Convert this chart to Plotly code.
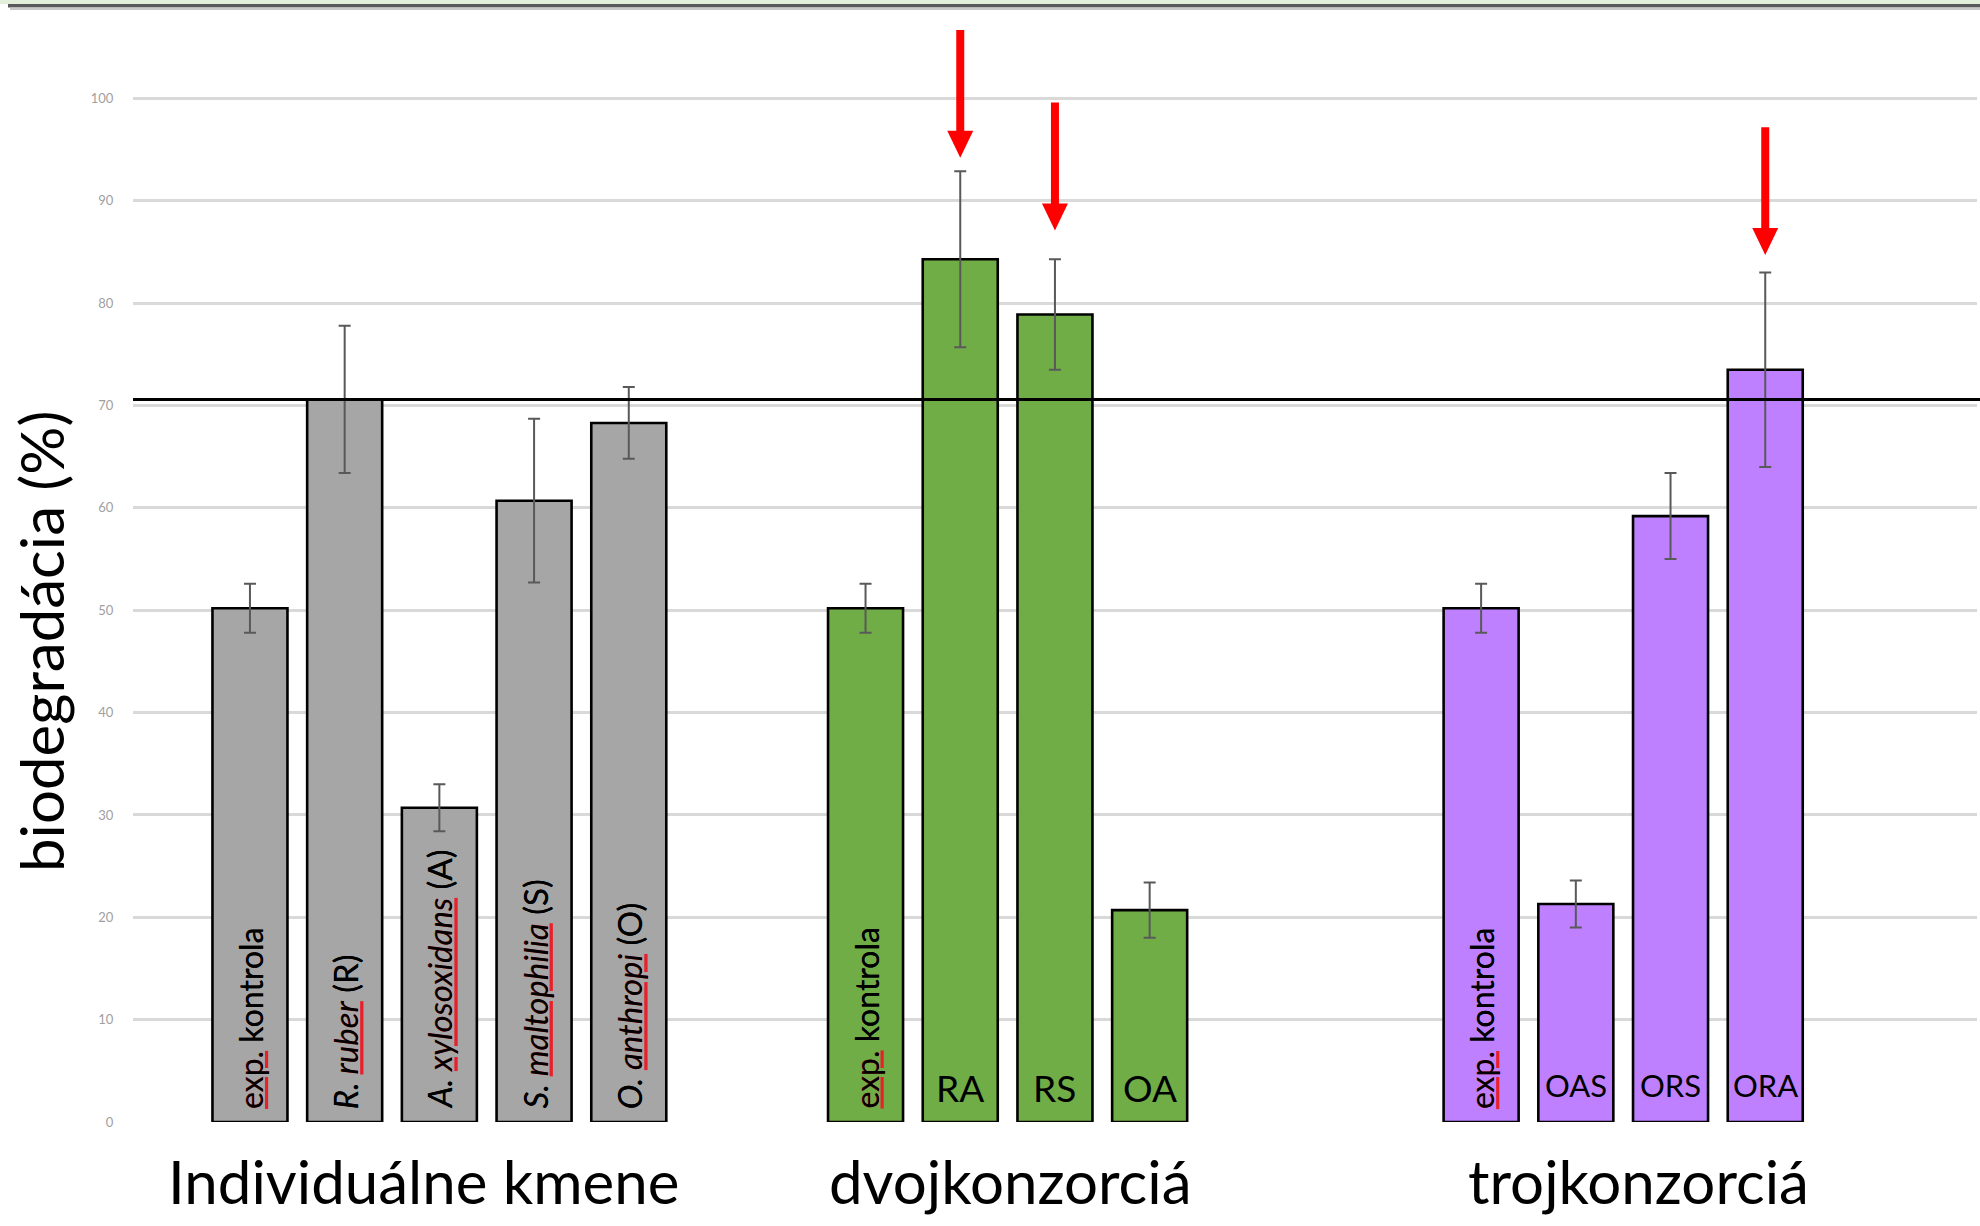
import plotly.graph_objects as go

# ---------------- data ----------------
ind_labels = ["exp. kontrola", "R. ruber (R)", "A. xylosoxidans (A)", "S. maltophilia (S)", "O. anthropi (O)"]
ind_values = [50.2, 70.6, 30.7, 60.7, 68.3]
ind_errors = [2.4, 7.2, 2.3, 8.0, 3.5]

duo_labels = ["exp. kontrola", "RA", "RS", "OA"]
duo_values = [50.2, 84.3, 78.9, 20.7]
duo_errors = [2.4, 8.6, 5.4, 2.7]

trio_labels = ["exp. kontrola", "OAS", "ORS", "ORA"]
trio_values = [50.2, 21.3, 59.2, 73.5]
trio_errors = [2.4, 2.3, 4.2, 9.5]

group_names = ["Individuálne kmene", "dvojkonzorciá", "trojkonzorciá"]
threshold_value = 70.6
highlighted = ["RA", "RS", "ORA"]
arrow_tips = [94.2, 87.1, 84.7]
y_ticks = [0, 10, 20, 30, 40, 50, 60, 70, 80, 90, 100]
y_title = "biodegradácia (%)"

# ---------------- layout constants ----------------
W, H = 1980, 1226
L, R, T, B = 133, 3, 12, 104
PW, PH = W - L - R, H - T - B
FONT = "Lato"
group_start = [0, 6.5, 13]
group_name_shift = [-16, 2, 15]
colors = ["#a6a6a6", "#70ad47", "#bf80ff"]
bar_w = 0.792
x_range = [-1.235, 18.236]
y_range = [0, 108.45]
SQUIGGLE = "color:#e8202a;text-decoration:underline;text-decoration-thickness:3px"


def px_x(p):
    return (p - L) / PW


def px_y(p):
    return (H - B - p) / PH


def fmt_label(lab, mark):
    """Rich text for a rotated bar label; if mark, the spell-checked word is red+underlined."""
    def wrap(word):
        return f'<span style="{SQUIGGLE}">{word}</span>' if mark else word
    if lab.startswith("exp."):
        return f'{wrap("exp.")} kontrola'
    genus, rest = lab.split(". ", 1)
    species, code = rest.rsplit(" ", 1)
    return f'<i>{genus}. {wrap(species)}</i> {code}'


groups = [
    (ind_labels, ind_values, ind_errors),
    (duo_labels, duo_values, duo_errors),
    (trio_labels, trio_values, trio_errors),
]

fig = go.Figure()
annotations = []
shapes = []
label_pos = {}

for gi, (labs, vals, errs) in enumerate(groups):
    xs = [group_start[gi] + i for i in range(len(labs))]
    fig.add_trace(go.Bar(
        x=xs, y=vals, width=bar_w,
        marker=dict(color=colors[gi], line=dict(color="black", width=2.6)),
        error_y=dict(type="data", array=errs, visible=True, color="#595959",
                     thickness=2, width=6),
        showlegend=False, hoverinfo="y",
    ))
    for x, lab in zip(xs, labs):
        label_pos[lab if lab != "exp. kontrola" else f"exp{gi}"] = x
        if len(lab) <= 3:
            size = 37 if gi == 1 else 31
            yshift = 10 if gi == 1 else 16
            annotations.append(dict(
                x=x, y=0, xref="x", yref="y", text=lab, showarrow=False,
                yanchor="bottom", xanchor="center", yshift=yshift,
                font=dict(family=FONT, size=size, color="black")))
        else:
            size = 32 if lab.startswith("exp.") else 33
            base = dict(x=x, y=0, xref="x", yref="y", showarrow=False,
                        textangle=-90, yanchor="bottom", xanchor="center", yshift=11,
                        font=dict(family=FONT, size=size, color="black"))
            # underlay carrying the red spell-check underline, then the black text on top
            annotations.append(dict(base, text=fmt_label(lab, True)))
            annotations.append(dict(base, text=fmt_label(lab, False)))
    center = group_start[gi] + (len(labs) - 1) / 2
    annotations.append(dict(
        x=center, y=0, xref="x", yref="y", text=group_names[gi], showarrow=False,
        yanchor="top", xanchor="center", yshift=-21, xshift=group_name_shift[gi],
        font=dict(family=FONT, size=60, color="black")))

# y axis title
annotations.append(dict(
    x=0, y=px_y(642), xref="paper", yref="paper", text=y_title, showarrow=False,
    textangle=-90, xanchor="center", yanchor="middle", xshift=-92,
    font=dict(family=FONT, size=60, color="black")))

# threshold line
shapes.append(dict(type="line", xref="paper", yref="y", x0=0, x1=px_x(W),
                   y0=threshold_value, y1=threshold_value,
                   line=dict(color="black", width=3), layer="above"))

# red arrows
arrow_len = 12.5
head_len = 2.64
head_hw = 0.137
for lab, tip in zip(highlighted, arrow_tips):
    x = label_pos[lab]
    shapes.append(dict(type="line", xref="x", yref="y", x0=x, x1=x,
                       y0=tip + head_len * 0.9, y1=tip + arrow_len,
                       line=dict(color="#ff0000", width=8), layer="above"))
    shapes.append(dict(type="path", xref="x", yref="y",
                       path=f"M {x - head_hw},{tip + head_len} L {x + head_hw},{tip + head_len} L {x},{tip} Z",
                       fillcolor="#ff0000", line=dict(width=0), layer="above"))

# screenshot top border strips
shapes.append(dict(type="rect", xref="paper", yref="paper", x0=px_x(0), x1=px_x(W),
                   y0=px_y(4), y1=px_y(0), fillcolor="#e2efda", line=dict(width=0)))
shapes.append(dict(type="rect", xref="paper", yref="paper", x0=px_x(8), x1=px_x(W),
                   y0=px_y(7.5), y1=px_y(4), fillcolor="#595959", line=dict(width=0)))
shapes.append(dict(type="rect", xref="paper", yref="paper", x0=px_x(10), x1=px_x(W),
                   y0=px_y(10), y1=px_y(7.5), fillcolor="#c8c8c8", line=dict(width=0)))

fig.update_layout(
    width=W, height=H,
    margin=dict(l=L, r=R, t=T, b=B, pad=0),
    paper_bgcolor="white", plot_bgcolor="white",
    bargap=0.2,
    xaxis=dict(range=x_range, showticklabels=False, showgrid=False, zeroline=False,
               showline=False, ticks=""),
    yaxis=dict(range=y_range, tickvals=y_ticks, showgrid=True, gridcolor="#d9d9d9",
               gridwidth=2.5, zeroline=False, showline=False,
               ticks="outside", ticklen=16, tickcolor="rgba(0,0,0,0)",
               tickfont=dict(family=FONT, size=13, color="#a0a0a0")),
    annotations=annotations,
    shapes=shapes,
)

fig.write_html("out.html", config={"displayModeBar": False},
               post_script="document.body.style.margin='0';document.body.style.overflow='hidden';")
